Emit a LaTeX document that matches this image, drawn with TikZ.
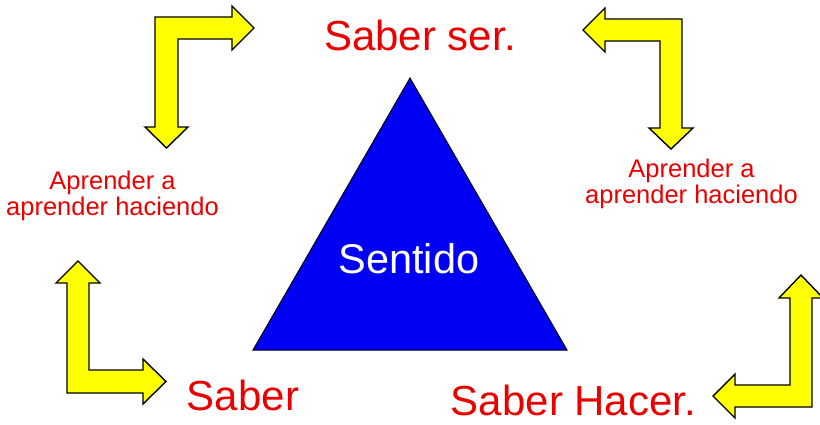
\documentclass[tikz,border=0pt]{standalone}
\usepackage{fontspec}
\setmainfont{Liberation Sans}
\definecolor{arrowyellow}{RGB}{255,255,0}
\definecolor{textred}{RGB}{235,0,0}
\definecolor{triblue}{RGB}{0,0,245}
\begin{document}
\begin{tikzpicture}[x=1pt,y=-1pt,
  bigarrow/.style={draw=black,fill=arrowyellow,line width=1.4pt,line join=miter},
  big/.style={text=textred,font=\fontsize{42}{50}\selectfont,inner sep=0pt,anchor=base},
  small/.style={text=textred,font=\fontsize{25.5}{25.7}\selectfont,align=center,inner sep=0pt,anchor=base}]
\useasboundingbox (0,0) rectangle (820,424);
\clip (0,0) rectangle (820,424);
\coordinate (T) at (410,78);
\coordinate (L) at (253,350);
\coordinate (R) at (567,350);
\draw[fill=triblue,line width=1pt] (T) -- (L) -- (R) -- cycle;
\node[anchor=base,text=white,font=\fontsize{41.5}{50}\selectfont,inner sep=0pt] (sentido) at (409,273) {Sentido};
\node[big] (ser) at (420,50) {Saber ser.};
\node[big] (saber) at (243,410) {Saber};
\node[big] (hacer) at (573.5,415) {Saber Hacer.};
\node[small] (left) at (112.5,215.5) {Aprender a\\aprender haciendo};
\node[small] (right) at (691.5,203) {Aprender a\\aprender haciendo};
% top left
\draw[bigarrow] (155,17) -- (232,17) -- (232,6) -- (254,28) -- (232,50) -- (232,39)
  -- (178,39) -- (178,127) -- (188,127) -- (166.5,148) -- (145,127) -- (155,127) -- cycle;
% top right
\draw[bigarrow] (682,19) -- (605,19) -- (605,8) -- (583,30) -- (605,52) -- (605,41)
  -- (660,41) -- (660,128) -- (649,128) -- (671,149) -- (693,128) -- (682,128) -- cycle;
% bottom left
\draw[bigarrow] (67,393) -- (67,283) -- (56,283) -- (78,261) -- (100,283) -- (89,283)
  -- (89,370) -- (143,370) -- (143,359) -- (166,381.5) -- (143,404) -- (143,393) -- cycle;
% bottom right
\draw[bigarrow] (812,407) -- (735,407) -- (735,418) -- (713,396) -- (735,374) -- (735,385)
  -- (790,385) -- (790,298) -- (779,298) -- (801,275) -- (823,298) -- (812,298) -- cycle;
\end{tikzpicture}
\end{document}
